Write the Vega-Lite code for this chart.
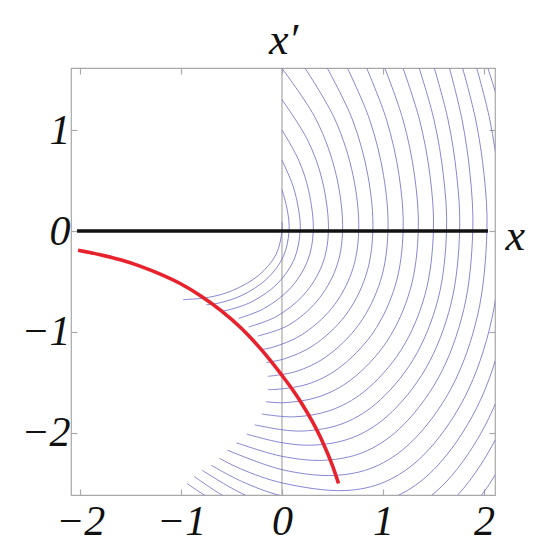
{
  "$schema": "https://vega.github.io/schema/vega-lite/v6.json",
  "width": 424,
  "height": 427,
  "autosize": {"type": "none"},
  "padding": {"left": 71, "top": 68, "right": 49, "bottom": 55},
  "background": "white",
  "config": {
    "view": {"stroke": "#a8a8a8", "strokeWidth": 1.2},
    "axis": {
      "domain": false, "grid": false,
      "tickColor": "#a8a8a8", "tickSize": -6, "tickWidth": 1.2,
      "labelFont": "Liberation Serif", "labelFontStyle": "italic", "labelFontSize": 42, "labelColor": "#111",
      "titleFont": "Liberation Serif", "titleFontStyle": "italic", "titleFontWeight": "normal", "titleFontSize": 44, "titleColor": "#111"
    }
  },
  "datasets": {
    "vline": [{"x": 0}],
    "zero": [{"x": -2.03, "y": 0}, {"x": 2.04, "y": 0}],
    "red": [
      {"i": 0, "x": -2.02, "y": -0.19}, {"i": 1, "x": -1.8, "y": -0.235}, {"i": 2, "x": -1.6, "y": -0.285},
      {"i": 3, "x": -1.4, "y": -0.35}, {"i": 4, "x": -1.2, "y": -0.43}, {"i": 5, "x": -1.0, "y": -0.525},
      {"i": 6, "x": -0.8, "y": -0.645}, {"i": 7, "x": -0.6, "y": -0.79}, {"i": 8, "x": -0.4, "y": -0.965},
      {"i": 9, "x": -0.2, "y": -1.18}, {"i": 10, "x": 0.0, "y": -1.43}, {"i": 11, "x": 0.1, "y": -1.565},
      {"i": 12, "x": 0.2, "y": -1.715}, {"i": 13, "x": 0.3, "y": -1.886}, {"i": 14, "x": 0.4, "y": -2.084},
      {"i": 15, "x": 0.5, "y": -2.324}, {"i": 16, "x": 0.56, "y": -2.50}
    ],
    "xlab": [{"x": 2.31, "y": -0.06, "t": "x"}],
    "contours": [
      {"k":1,"i":0,"x":0,"y":0.09},{"k":1,"i":1,"x":0,"y":0},{"k":1,"i":2,"x":-0.059,"y":-0.233},{"k":1,"i":3,"x":-0.229,"y":-0.437},{"k":1,"i":4,"x":-0.49,"y":-0.589},{"k":1,"i":5,"x":-0.726,"y":-0.657},{"k":1,"i":6,"x":-0.98,"y":-0.68},
      {"k":2,"i":0,"x":0,"y":0.41},{"k":2,"i":1,"x":0.054,"y":0.2},{"k":2,"i":2,"x":0.07,"y":0},{"k":2,"i":3,"x":0.013,"y":-0.253},{"k":2,"i":4,"x":-0.152,"y":-0.476},{"k":2,"i":5,"x":-0.405,"y":-0.641},{"k":2,"i":6,"x":-0.634,"y":-0.715},{"k":2,"i":7,"x":-0.75,"y":-0.73},
      {"k":3,"i":0,"x":0,"y":0.7},{"k":3,"i":1,"x":0.108,"y":0.45},{"k":3,"i":2,"x":0.166,"y":0.2},{"k":3,"i":3,"x":0.18,"y":0},{"k":3,"i":4,"x":0.122,"y":-0.277},{"k":3,"i":5,"x":-0.045,"y":-0.521},{"k":3,"i":6,"x":-0.30,"y":-0.701},{"k":3,"i":7,"x":-0.531,"y":-0.782},{"k":3,"i":8,"x":-0.58,"y":-0.79},
      {"k":4,"i":0,"x":0,"y":1.0},{"k":4,"i":1,"x":0.166,"y":0.7},{"k":4,"i":2,"x":0.264,"y":0.4},{"k":4,"i":3,"x":0.31,"y":0},{"k":4,"i":4,"x":0.25,"y":-0.304},{"k":4,"i":5,"x":0.078,"y":-0.572},{"k":4,"i":6,"x":-0.185,"y":-0.771},{"k":4,"i":7,"x":-0.43,"y":-0.865},
      {"k":5,"i":0,"x":0,"y":1.3},{"k":5,"i":1,"x":0.254,"y":0.9},{"k":5,"i":2,"x":0.399,"y":0.5},{"k":5,"i":3,"x":0.46,"y":0},{"k":5,"i":4,"x":0.398,"y":-0.335},{"k":5,"i":5,"x":0.217,"y":-0.63},{"k":5,"i":6,"x":-0.06,"y":-0.849},{"k":5,"i":7,"x":-0.33,"y":-0.95},
      {"k":6,"i":0,"x":0,"y":1.61},{"k":6,"i":1,"x":0.34,"y":1.1},{"k":6,"i":2,"x":0.538,"y":0.55},{"k":6,"i":3,"x":0.6,"y":0},{"k":6,"i":4,"x":0.535,"y":-0.369},{"k":6,"i":5,"x":0.347,"y":-0.694},{"k":6,"i":6,"x":0.06,"y":-0.935},{"k":6,"i":7,"x":-0.24,"y":-1.04},
      {"k":7,"i":0,"x":0.23,"y":1.61},{"k":7,"i":1,"x":0.527,"y":1.1},{"k":7,"i":2,"x":0.704,"y":0.55},{"k":7,"i":3,"x":0.76,"y":0},{"k":7,"i":4,"x":0.691,"y":-0.407},{"k":7,"i":5,"x":0.493,"y":-0.765},{"k":7,"i":6,"x":0.19,"y":-1.031},{"k":7,"i":7,"x":-0.085,"y":-1.149},{"k":7,"i":8,"x":-0.222,"y":-1.178},
      {"k":8,"i":0,"x":0.45,"y":1.61},{"k":8,"i":1,"x":0.699,"y":1.1},{"k":8,"i":2,"x":0.851,"y":0.55},{"k":8,"i":3,"x":0.9,"y":0},{"k":8,"i":4,"x":0.829,"y":-0.448},{"k":8,"i":5,"x":0.624,"y":-0.842},{"k":8,"i":6,"x":0.31,"y":-1.134},{"k":8,"i":7,"x":0.026,"y":-1.265},{"k":8,"i":8,"x":-0.156,"y":-1.303},
      {"k":9,"i":0,"x":0.65,"y":1.61},{"k":9,"i":1,"x":0.869,"y":1.1},{"k":9,"i":2,"x":1.006,"y":0.55},{"k":9,"i":3,"x":1.05,"y":0},{"k":9,"i":4,"x":0.976,"y":-0.492},{"k":9,"i":5,"x":0.762,"y":-0.926},{"k":9,"i":6,"x":0.435,"y":-1.247},{"k":9,"i":7,"x":0.139,"y":-1.391},{"k":9,"i":8,"x":-0.14,"y":-1.439},
      {"k":10,"i":0,"x":0.84,"y":1.61},{"k":10,"i":1,"x":1.036,"y":1.1},{"k":10,"i":2,"x":1.16,"y":0.55},{"k":10,"i":3,"x":1.2,"y":0},{"k":10,"i":4,"x":1.123,"y":-0.537},{"k":10,"i":5,"x":0.90,"y":-1.01},{"k":10,"i":6,"x":0.56,"y":-1.36},{"k":10,"i":7,"x":0.251,"y":-1.517},{"k":10,"i":8,"x":-0.08,"y":-1.57},{"k":10,"i":9,"x":-0.14,"y":-1.569},
      {"k":11,"i":0,"x":1.02,"y":1.61},{"k":11,"i":1,"x":1.199,"y":1.1},{"k":11,"i":2,"x":1.313,"y":0.55},{"k":11,"i":3,"x":1.35,"y":0},{"k":11,"i":4,"x":1.27,"y":-0.581},{"k":11,"i":5,"x":1.039,"y":-1.093},{"k":11,"i":6,"x":0.685,"y":-1.472},{"k":11,"i":7,"x":0.364,"y":-1.642},{"k":11,"i":8,"x":0.02,"y":-1.70},{"k":11,"i":9,"x":-0.16,"y":-1.69},
      {"k":12,"i":0,"x":1.2,"y":1.61},{"k":12,"i":1,"x":1.3625,"y":1.1},{"k":12,"i":2,"x":1.466,"y":0.55},{"k":12,"i":3,"x":1.5,"y":0},{"k":12,"i":4,"x":1.417,"y":-0.629},{"k":12,"i":5,"x":1.177,"y":-1.183},{"k":12,"i":6,"x":0.81,"y":-1.593},{"k":12,"i":7,"x":0.477,"y":-1.777},{"k":12,"i":8,"x":0.12,"y":-1.84},{"k":12,"i":9,"x":-0.2,"y":-1.812},
      {"k":13,"i":0,"x":1.36,"y":1.61},{"k":13,"i":1,"x":1.506,"y":1.1},{"k":13,"i":2,"x":1.599,"y":0.55},{"k":13,"i":3,"x":1.63,"y":0},{"k":13,"i":4,"x":1.545,"y":-0.677},{"k":13,"i":5,"x":1.30,"y":-1.273},{"k":13,"i":6,"x":0.925,"y":-1.715},{"k":13,"i":7,"x":0.585,"y":-1.913},{"k":13,"i":8,"x":0.22,"y":-1.98},{"k":13,"i":9,"x":0,"y":-1.968},{"k":13,"i":10,"x":-0.27,"y":-1.919},
      {"k":14,"i":0,"x":1.51,"y":1.61},{"k":14,"i":1,"x":1.645,"y":1.1},{"k":14,"i":2,"x":1.731,"y":0.55},{"k":14,"i":3,"x":1.76,"y":0},{"k":14,"i":4,"x":1.673,"y":-0.725},{"k":14,"i":5,"x":1.423,"y":-1.363},{"k":14,"i":6,"x":1.04,"y":-1.836},{"k":14,"i":7,"x":0.693,"y":-2.048},{"k":14,"i":8,"x":0.32,"y":-2.12},{"k":14,"i":9,"x":0,"y":-2.096},{"k":14,"i":10,"x":-0.35,"y":-2.011},
      {"k":15,"i":0,"x":1.66,"y":1.61},{"k":15,"i":1,"x":1.784,"y":1.1},{"k":15,"i":2,"x":1.864,"y":0.55},{"k":15,"i":3,"x":1.89,"y":0},{"k":15,"i":4,"x":1.801,"y":-0.776},{"k":15,"i":5,"x":1.546,"y":-1.46},{"k":15,"i":6,"x":1.155,"y":-1.966},{"k":15,"i":7,"x":0.801,"y":-2.193},{"k":15,"i":8,"x":0.42,"y":-2.27},{"k":15,"i":9,"x":0,"y":-2.231},{"k":15,"i":10,"x":-0.45,"y":-2.097},
      {"k":16,"i":0,"x":1.79,"y":1.61},{"k":16,"i":1,"x":1.919,"y":1.1},{"k":16,"i":2,"x":2.0025,"y":0.55},{"k":16,"i":3,"x":2.03,"y":0},{"k":16,"i":4,"x":1.939,"y":-0.828},{"k":16,"i":5,"x":1.677,"y":-1.556},{"k":16,"i":6,"x":1.275,"y":-2.096},{"k":16,"i":7,"x":0.911,"y":-2.338},{"k":16,"i":8,"x":0.52,"y":-2.42},{"k":16,"i":9,"x":0,"y":-2.363},{"k":16,"i":10,"x":-0.54,"y":-2.17},
      {"k":17,"i":0,"x":1.93,"y":1.61},{"k":17,"i":1,"x":2.059,"y":1.1},{"k":17,"i":2,"x":2.1425,"y":0.55},{"k":17,"i":3,"x":2.17,"y":0},{"k":17,"i":4,"x":2.077,"y":-0.879},{"k":17,"i":5,"x":1.807,"y":-1.652},{"k":17,"i":6,"x":1.395,"y":-2.226},{"k":17,"i":7,"x":1.021,"y":-2.483},{"k":17,"i":8,"x":0.62,"y":-2.57},{"k":17,"i":9,"x":0,"y":-2.494},{"k":17,"i":10,"x":-0.4,"y":-2.359},{"k":17,"i":11,"x":-0.62,"y":-2.251},
      {"k":18,"i":0,"x":2.04,"y":1.61},{"k":18,"i":1,"x":2.189,"y":1.1},{"k":18,"i":2,"x":2.27,"y":0.55},{"k":18,"i":3,"x":2.30,"y":0},{"k":18,"i":4,"x":2.205,"y":-0.93},{"k":18,"i":5,"x":1.93,"y":-1.749},{"k":18,"i":6,"x":1.51,"y":-2.356},{"k":18,"i":7,"x":1.129,"y":-2.628},{"k":18,"i":8,"x":0.72,"y":-2.72},{"k":18,"i":9,"x":0,"y":-2.623},{"k":18,"i":10,"x":-0.4,"y":-2.479},{"k":18,"i":11,"x":-0.70,"y":-2.32},
      {"k":19,"i":0,"x":2.32,"y":1.1},{"k":19,"i":1,"x":2.40,"y":0.55},{"k":19,"i":2,"x":2.43,"y":0},{"k":19,"i":3,"x":2.333,"y":-0.982},{"k":19,"i":4,"x":2.053,"y":-1.845},{"k":19,"i":5,"x":1.625,"y":-2.485},{"k":19,"i":6,"x":1.237,"y":-2.772},{"k":19,"i":7,"x":0.82,"y":-2.87},{"k":19,"i":8,"x":0,"y":-2.75},{"k":19,"i":9,"x":-0.4,"y":-2.598},{"k":19,"i":10,"x":-0.79,"y":-2.37},
      {"k":20,"i":0,"x":2.56,"y":0},{"k":20,"i":1,"x":2.461,"y":-1.033},{"k":20,"i":2,"x":2.176,"y":-1.941},{"k":20,"i":3,"x":1.74,"y":-2.615},{"k":20,"i":4,"x":1.345,"y":-2.917},{"k":20,"i":5,"x":0.92,"y":-3.02},{"k":20,"i":6,"x":0.4,"y":-2.975},{"k":20,"i":7,"x":-0.2,"y":-2.805},{"k":20,"i":8,"x":-0.6,"y":-2.61},{"k":20,"i":9,"x":-0.87,"y":-2.43},
      {"k":21,"i":0,"x":2.69,"y":0},{"k":21,"i":1,"x":2.59,"y":-1.084},{"k":21,"i":2,"x":2.299,"y":-2.038},{"k":21,"i":3,"x":1.855,"y":-2.745},{"k":21,"i":4,"x":1.02,"y":-3.17},{"k":21,"i":5,"x":-0.3,"y":-2.883},{"k":21,"i":6,"x":-0.77,"y":-2.614},{"k":21,"i":7,"x":-0.94,"y":-2.50}
    ]
  },
  "layer": [
    {
      "data": {"name": "vline"},
      "mark": {"type": "rule", "color": "#a8a8a8", "strokeWidth": 1.2},
      "encoding": {
        "x": {"field": "x", "type": "quantitative", "scale": {"domain": [-2.09, 2.11], "nice": false, "zero": false}, "axis": null}
      }
    },
    {
      "data": {"name": "contours"},
      "mark": {"type": "line", "interpolate": "catmull-rom", "clip": true, "color": "#6a6ac8", "strokeWidth": 0.9, "opacity": 0.9},
      "encoding": {
        "x": {"field": "x", "type": "quantitative", "scale": {"domain": [-2.09, 2.11], "nice": false, "zero": false},
              "axis": {"orient": "bottom", "values": [-2, -1, 0, 1, 2], "title": null, "labelPadding": 12}},
        "y": {"field": "y", "type": "quantitative", "scale": {"domain": [-2.614, 1.614], "nice": false, "zero": false},
              "axis": {"orient": "left", "values": [-2, -1, 0, 1], "title": null, "labelPadding": 7}},
        "detail": {"field": "k", "type": "nominal"},
        "order": {"field": "i", "type": "quantitative"}
      }
    },
    {
      "data": {"name": "zero"},
      "mark": {"type": "line", "color": "#111111", "strokeWidth": 3.6},
      "encoding": {
        "x": {"field": "x", "type": "quantitative", "scale": {"domain": [-2.09, 2.11], "nice": false, "zero": false},
              "axis": {"orient": "top", "values": [-2, -1, 0, 1, 2], "labels": false, "title": "x′", "titlePadding": 5}},
        "y": {"field": "y", "type": "quantitative", "scale": {"domain": [-2.614, 1.614], "nice": false, "zero": false},
              "axis": {"orient": "right", "values": [-2, -1, 0, 1], "labels": false, "title": null}}
      }
    },
    {
      "data": {"name": "red"},
      "mark": {"type": "line", "interpolate": "monotone", "color": "#e8222c", "strokeWidth": 3.6},
      "encoding": {
        "x": {"field": "x", "type": "quantitative", "scale": {"domain": [-2.09, 2.11], "nice": false, "zero": false}, "axis": null},
        "y": {"field": "y", "type": "quantitative", "scale": {"domain": [-2.614, 1.614], "nice": false, "zero": false}, "axis": null},
        "order": {"field": "i", "type": "quantitative"}
      }
    },
    {
      "data": {"name": "xlab"},
      "mark": {"type": "text", "font": "Liberation Serif", "fontStyle": "italic", "fontSize": 44, "color": "#111", "baseline": "middle", "align": "center"},
      "encoding": {
        "x": {"field": "x", "type": "quantitative", "scale": {"domain": [-2.09, 2.11], "nice": false, "zero": false}, "axis": null},
        "y": {"field": "y", "type": "quantitative", "scale": {"domain": [-2.614, 1.614], "nice": false, "zero": false}, "axis": null},
        "text": {"field": "t"}
      }
    }
  ],
  "resolve": {"axis": {"x": "independent", "y": "independent"}}
}
